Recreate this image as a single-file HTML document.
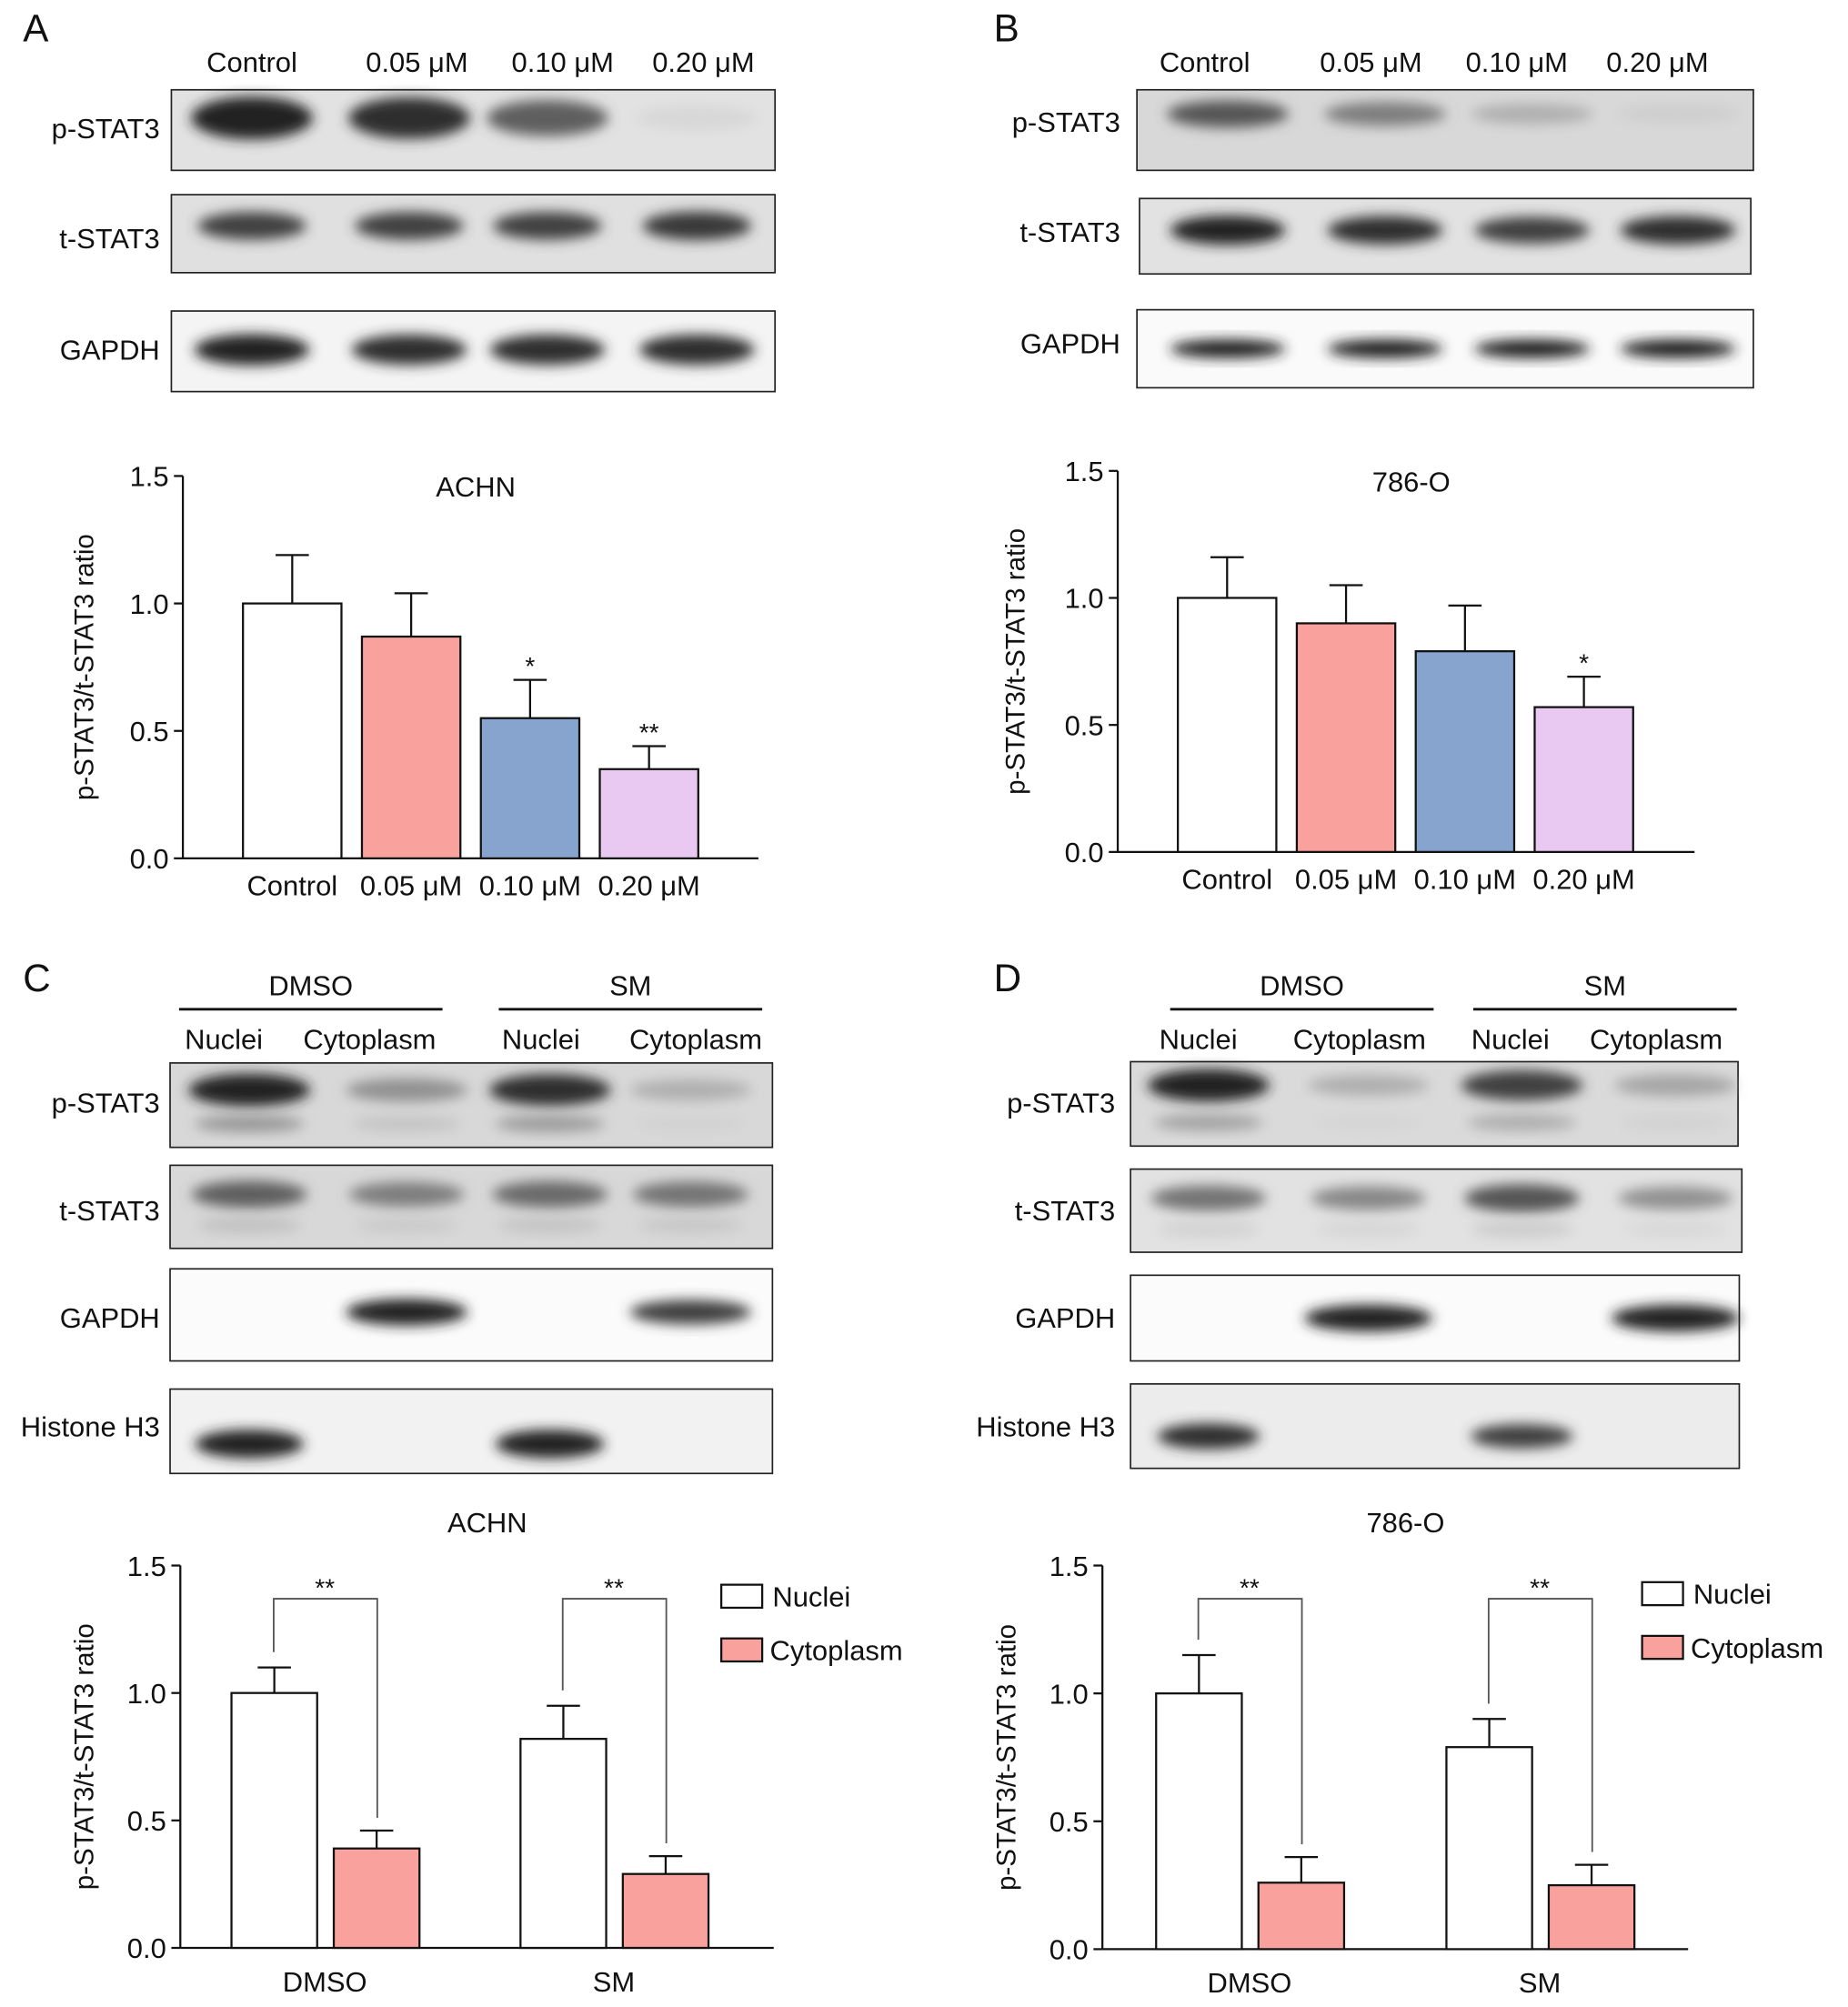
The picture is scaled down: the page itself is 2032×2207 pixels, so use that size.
<!DOCTYPE html>
<html><head><meta charset="utf-8">
<style>
html,body{margin:0;padding:0;background:#fff;}
svg{display:block;font-family:"Liberation Sans",sans-serif;}
</style></head>
<body>
<svg id="fig" xmlns="http://www.w3.org/2000/svg" width="2032" height="2207" viewBox="0 0 1445 1569">
<defs>
<filter id="blur" x="-20%" y="-50%" width="140%" height="200%"><feGaussianBlur stdDeviation="5"/></filter>
</defs>
<g id="root"></g>
</svg>
<script>
// ---------- chart data ----------
const chartACats = ["Control","0.05 μM","0.10 μM","0.20 μM"];
const chartAValues = [1.0,0.87,0.55,0.35];
const chartAErrors = [0.19,0.17,0.15,0.09];
const chartASig = ["","","*","**"];
const chartBCats = ["Control","0.05 μM","0.10 μM","0.20 μM"];
const chartBValues = [1.0,0.90,0.79,0.57];
const chartBErrors = [0.16,0.15,0.18,0.12];
const chartBSig = ["","","","*"];
const chartCGroups = ["DMSO","SM"];
const chartCNuclei = [1.0,0.82];
const chartCNucleiErr = [0.10,0.13];
const chartCCyto = [0.39,0.29];
const chartCCytoErr = [0.07,0.07];
const chartDGroups = ["DMSO","SM"];
const chartDNuclei = [1.0,0.79];
const chartDNucleiErr = [0.15,0.11];
const chartDCyto = [0.26,0.25];
const chartDCytoErr = [0.10,0.08];
const yTicks = [0.0,0.5,1.0,1.5];
const yTickLabels = ["0.0","0.5","1.0","1.5"];

const NS="http://www.w3.org/2000/svg";
const root=document.getElementById('root');
function el(tag,attrs,parent){const e=document.createElementNS(NS,tag);for(const k in attrs)e.setAttribute(k,attrs[k]);(parent||root).appendChild(e);return e;}
function txt(x,y,s,size,anchor,parent){const t=el('text',{x:x,y:y,'font-size':size,'text-anchor':anchor||'middle',fill:'#111'},parent);t.textContent=s;return t;}

const COLORS=["#ffffff","#f8a19d","#87a4cf","#e9c9f2"];
const PINK="#f8a19d";

[["A",18,32],["B",777,32],["C",18,775],["D",777,775]].forEach(p=>{
  const t=txt(p[1],p[2],p[0],30,'start');
  
  
});

function blot(name,x,y,w,h,lanes,intens,bandW,opts){
  opts=opts||{};
  const g=el('g',{});
  
  
  el('rect',{x:x,y:y,width:w,height:h,fill:opts.bg||'#e4e4e4',stroke:'#222','stroke-width':1.2},g);
  lanes.forEach((cx,i)=>{
    const v=intens[i]; if(v<=0)return;
    const c=Math.round(235-200*v);
    el('ellipse',{cx:cx,cy:y+h*(opts.cy||0.42),rx:bandW/2,ry:h*(opts.ry||0.16)*(0.6+0.6*v),fill:`rgb(${c},${c},${c})`,filter:'url(#blur)'},g);
    if(opts.second){const c2=Math.round(235-120*v*opts.second);
      el('ellipse',{cx:cx,cy:y+h*0.72,rx:bandW/2*0.9,ry:h*0.1,fill:`rgb(${c2},${c2},${c2})`,filter:'url(#blur)'},g);}
  });
  return g;
}
function rowLabel(name,x,y,s){const t=txt(x,y,s,22,'end');}

const laneA=[197,320,428,545];
["Control","0.05 μM","0.10 μM","0.20 μM"].forEach((s,i)=>{const t=txt([197,326,440,550][i],56,s,22);});
blot('panel-a-pstat3-blot',134,70,472,63,laneA,[1,0.95,0.7,0.1],95,{bg:'#e2e2e2',ry:0.22,cy:0.35});
blot('panel-a-tstat3-blot',134,152,472,61,laneA,[0.85,0.85,0.85,0.9],85,{bg:'#e0e0e0',cy:0.4});
blot('panel-a-gapdh-blot',134,243,472,63,laneA,[1,0.95,0.95,0.95],90,{bg:'#f4f4f4',cy:0.48});
rowLabel('panel-a-pstat3-label',125,108,'p-STAT3');rowLabel('panel-a-tstat3-label',125,194,'t-STAT3');rowLabel('panel-a-gapdh-label',125,281,'GAPDH');

const laneB=[960,1083,1198,1312];
["Control","0.05 μM","0.10 μM","0.20 μM"].forEach((s,i)=>{const t=txt([942,1072,1186,1296][i],56,s,22);});
blot('panel-b-pstat3-blot',889,70,482,63,laneB,[0.75,0.55,0.3,0.15],95,{bg:'#d8d8d8',cy:0.3});
blot('panel-b-tstat3-blot',891,155,478,59,laneB,[1,0.95,0.85,0.95],90,{bg:'#e2e2e2',cy:0.42});
blot('panel-b-gapdh-blot',889,242,482,61,laneB,[1,1,1,1],90,{bg:'#fafafa',cy:0.5,ry:0.1});
rowLabel('panel-b-pstat3-label',876,103,'p-STAT3');rowLabel('panel-b-tstat3-label',876,189,'t-STAT3');rowLabel('panel-b-gapdh-label',876,276,'GAPDH');

function fracHeader(p,dm,sm,subs){
  [[dm,'DMSO'],[sm,'SM']].forEach(a=>{
    const t=txt((a[0][0]+a[0][1])/2,778,a[1],22);
    const l=el('line',{x1:a[0][0],x2:a[0][1],y1:789,y2:789,stroke:'#111','stroke-width':2});
  });
  subs.forEach((s,i)=>{const t=txt(s,820,i%2?'Cytoplasm':'Nuclei',22);});
}
fracHeader('c',[140,346],[390,596],[175,289,423,544]);
fracHeader('d',[915,1121],[1152,1358],[937,1063,1181,1295]);
const laneC=[195,318,430,540];
blot('panel-c-pstat3-blot',133,831,471,66,laneC,[1,0.45,0.95,0.3],95,{bg:'#d8d8d8',cy:0.32,second:0.7});
blot('panel-c-tstat3-blot',133,911,471,65,laneC,[0.7,0.55,0.65,0.6],90,{bg:'#d8d8d8',cy:0.35,second:0.5});
blot('panel-c-gapdh-blot',133,992,471,72,laneC,[0,1,0,0.85],95,{bg:'#fbfbfb',cy:0.47,ry:0.12});
blot('panel-c-histone-blot',133,1086,471,66,laneC,[1,0,1,0],85,{bg:'#f2f2f2',cy:0.65,ry:0.14});
const laneD=[945,1070,1190,1310];
blot('panel-d-pstat3-blot',884,830,475,66,laneD,[1,0.3,0.85,0.35],95,{bg:'#dadada',cy:0.28,second:0.6});
blot('panel-d-tstat3-blot',884,914,478,65,laneD,[0.6,0.5,0.75,0.45],90,{bg:'#e2e2e2',cy:0.35,second:0.35});
blot('panel-d-gapdh-blot',884,997,476,67,laneD,[0,1,0,1],100,{bg:'#fbfbfb',cy:0.5,ry:0.13});
blot('panel-d-histone-blot',884,1082,476,66,laneD,[0.95,0,0.85,0],80,{bg:'#ececec',cy:0.62,ry:0.13});
[['c',125,[870,954,1038,1123]],['d',872,[870,954,1038,1123]]].forEach(a=>{
  ['p-STAT3','t-STAT3','GAPDH','Histone H3'].forEach((s,i)=>rowLabel('panel-'+a[0]+'-row-label',a[1],a[2][i],s));
});

function axisY(name,x0,y0,y1,xEnd,ylabelX){
  const g=el('g',{});
  const sc=v=>y0-(y0-y1)*v/1.5;
  el('line',{x1:x0,x2:x0,y1:y1,y2:y0,stroke:'#111','stroke-width':1.6},g);
  el('line',{x1:x0,x2:xEnd,y1:y0,y2:y0,stroke:'#111','stroke-width':1.6},g);
  yTicks.forEach((v,i)=>{el('line',{x1:x0-7,x2:x0,y1:sc(v),y2:sc(v),stroke:'#111','stroke-width':1.6},g);txt(x0-11,sc(v)+8,yTickLabels[i],22,'end',g);});
  const yl=txt(0,0,'p-STAT3/t-STAT3 ratio',21,'middle',g);
  yl.setAttribute('transform',`translate(${ylabelX},${(y0+y1)/2}) rotate(-90)`);
  return sc;
}
function bar(name,x,w,v,err,sc,fill){
  const b=el('rect',{x:x,y:sc(v),width:w,height:sc(0)-sc(v),fill:fill,stroke:'#111','stroke-width':1.6});
  
  const e=el('path',{d:`M${x+w/2},${sc(v)} V${sc(v+err)} M${x+w/2-13},${sc(v+err)} H${x+w/2+13}`,stroke:'#111','stroke-width':1.6,fill:'none'});
  
  return sc(v+err);
}
function simpleChart(p,cats,vals,errs,sig,x0,y0,y1,xEnd,bx,title,ylx){
  const sc=axisY('panel-'+p+'-axes',x0,y0,y1,xEnd,ylx);
  const tt=txt((x0+xEnd)/2+4,y1+16,title,22);
  cats.forEach((c,i)=>{
    const x=bx+i*93;
    const top=bar('panel-'+p+'-bar-'+i,x,77,vals[i],errs[i],sc,COLORS[i]);
    if(sig[i]){const s=txt(x+38.5,top-4,sig[i],20);}
    const l=txt(x+38.5,y0+29,c,22);
  });
}
simpleChart('a',chartACats,chartAValues,chartAErrors,chartASig,143,671,372,593,190,'ACHN',73);
simpleChart('b',chartBCats,chartBValues,chartBErrors,chartBSig,874,666,368,1325,921,'786-O',801);

function fracChart(p,groups,nuc,nucE,cyt,cytE,x0,y0,y1,xEnd,gx,title,ylx,legX,legY){
  const sc=axisY('panel-'+p+'-axes',x0,y0,y1,xEnd,ylx);
  const tt=txt((x0+xEnd)/2+8,y1-26,title,22);
  groups.forEach((gname,i)=>{
    const x=gx[i];
    const t1=bar('panel-'+p+'-bar-nuclei-'+gname.toLowerCase(),x,67,nuc[i],nucE[i],sc,'#fff');
    bar('panel-'+p+'-bar-cytoplasm-'+gname.toLowerCase(),x+80,67,cyt[i],cytE[i],sc,PINK);
    const by=y1+26;
    const br=el('path',{d:`M${x+33},${t1-12} V${by} H${x+114} V${sc(cyt[i]+cytE[i])-10}`,stroke:'#555','stroke-width':1.3,fill:'none'});
    
    const s=txt(x+73,by-2,'**',20);
    const l=txt(x+73,y0+34,gname,22);
  });
  const lg=el('g',{});
  el('rect',{x:legX,y:legY,width:32,height:18,fill:'#fff',stroke:'#111','stroke-width':1.6},lg);
  txt(legX+40,legY+17,'Nuclei',22,'start',lg);
  el('rect',{x:legX,y:legY+42,width:32,height:18,fill:PINK,stroke:'#111','stroke-width':1.6},lg);
  txt(legX+38,legY+59,'Cytoplasm',22,'start',lg);
}
fracChart('c',chartCGroups,chartCNuclei,chartCNucleiErr,chartCCyto,chartCCytoErr,141,1523,1224,605,[181,407],'ACHN',73,564,1239);
fracChart('d',chartDGroups,chartDNuclei,chartDNucleiErr,chartDCyto,chartDCytoErr,862,1524,1224,1320,[904,1131],'786-O',794,1284,1237);
</script>
</body></html>
